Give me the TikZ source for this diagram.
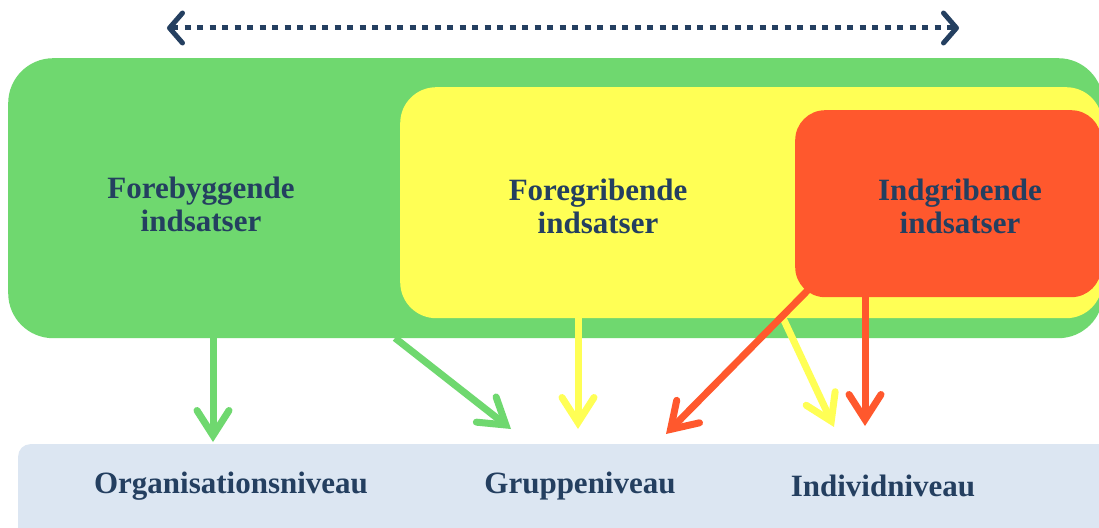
\documentclass[tikz,border=0pt]{standalone}
\usepackage{fontspec}
\setmainfont{Liberation Serif}
\usetikzlibrary{arrows.meta}
\definecolor{cgreen}{RGB}{111,216,111}
\definecolor{cyellow}{RGB}{255,255,85}
\definecolor{cred}{RGB}{255,88,45}
\definecolor{cblue}{RGB}{220,230,242}
\definecolor{ctext}{RGB}{36,63,96}
\tikzset{
  box/.style={draw=none, anchor=north west, inner sep=0pt},
  lbl/.style={text=ctext, font=\fontsize{31}{33}\selectfont\bfseries, align=center, inner sep=0pt},
  conn/.style={line width=7pt, -{Straight Barb[length=25pt, width=32pt, line cap=round, line join=miter]}},
}
\begin{document}
\begin{tikzpicture}[x=1pt,y=-1pt]
\useasboundingbox (0,0) rectangle (1099,527);
\fill[white] (0,0) rectangle (1099,527);
% boxes
\node[box, fill=cgreen, rounded corners=45pt, minimum width=1095pt, minimum height=280pt] (green) at (8,58) {};
\node[box, fill=cyellow, rounded corners=36pt, minimum width=702pt, minimum height=231pt] (yellow) at (400,87) {};
\node[box, fill=cred, rounded corners=30pt, minimum width=306pt, minimum height=187pt] (red) at (795,110) {};
\node[box, fill=cblue, rounded corners=12pt, minimum width=1100pt, minimum height=100pt] (level) at (18,444) {};
% labels
\node[lbl] (foretxt) at (201,204) {Forebyggende\\indsatser};
\node[lbl] (gribtxt) at (598,206) {Foregribende\\indsatser};
\node[lbl] (indtxt) at (960,206) {Indgribende\\indsatser};
\node[lbl] (org) at (231,486) {Organisationsniveau};
\node[lbl] (grp) at (580,486) {Gruppeniveau};
\node[lbl] (ind) at (883,486) {Individniveau};
% top dotted double arrow
\coordinate (dl) at (167,28);
\coordinate (dr) at (959,28);
\draw[ctext, line width=5pt, dash pattern=on 6pt off 6.5pt,
  {Straight Barb[length=13pt, width=30pt, round]}-{Straight Barb[length=13pt, width=30pt, round]}] (dl) -- (dr);
% connectors
\coordinate (g1s) at (213,338); \coordinate (g1e) at (213,442);
\coordinate (g2s) at (395,338); \coordinate (g2e) at (511,429);
\coordinate (y1s) at (578,318); \coordinate (y1e) at (578,429);
\coordinate (y2s) at (783,318); \coordinate (y2e) at (834,427);
\coordinate (r1s) at (808,290); \coordinate (r1e) at (666,434);
\coordinate (r2s) at (865,297); \coordinate (r2e) at (865,426);
\draw[conn, cgreen] (g1s) -- (g1e);
\draw[conn, cgreen] (g2s) -- (g2e);
\draw[conn, cyellow] (y1s) -- (y1e);
\draw[conn, cyellow] (y2s) -- (y2e);
\draw[conn, cred] (r1s) -- (r1e);
\draw[conn, cred] (r2s) -- (r2e);
\end{tikzpicture}
\end{document}
